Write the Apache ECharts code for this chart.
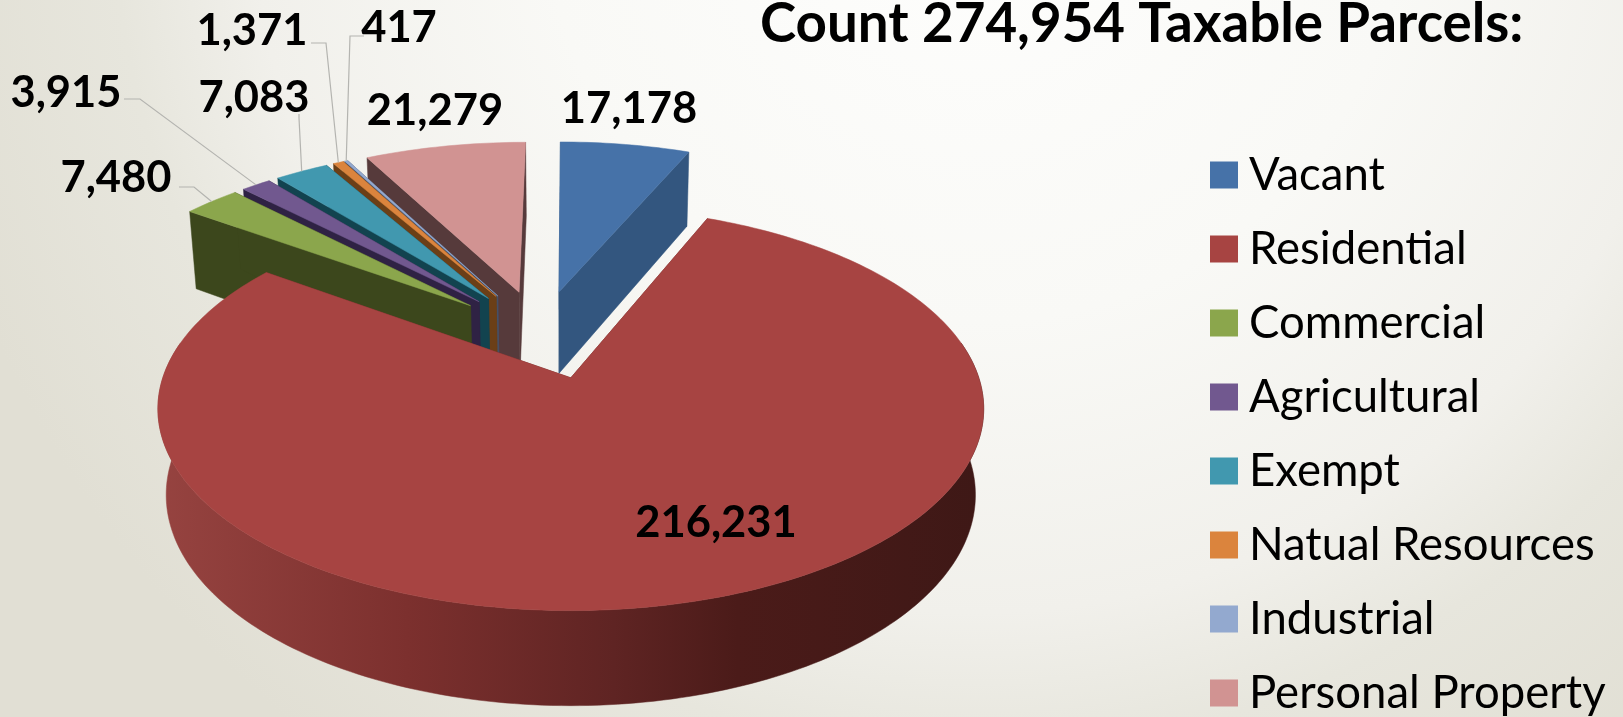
<!DOCTYPE html>
<html>
<head>
<meta charset="utf-8">
<style>
  html, body { margin: 0; padding: 0; }
  #chart { width: 1623px; height: 717px; }
</style>
<script src="https://cdn.jsdelivr.net/npm/echarts@6/dist/echarts.min.js"></script>
</head>
<body>
<div id="chart"></div>
<script>
const categories = ['Vacant', 'Residential', 'Commercial', 'Agricultural', 'Exempt', 'Natual Resources', 'Industrial', 'Personal Property'];
const parcels = [17178, 216231, 7480, 3915, 7083, 1371, 417, 21279];
const topColors = ['#4672a8', '#a74442', '#8ba64c', '#71588f', '#4198af', '#db843d', '#93a9cf', '#d19392'];
const wallColors = ['#33567f', '#6b2a28', '#3c471c', '#2f2244', '#12434f', '#6b3f17', '#455068', '#563a3b'];
const chartTitle = 'Count 274,954 Taxable Parcels:';

// paint order, back of the pie first
const paintOrder = [0, 7, 6, 5, 4, 3, 2, 1];

// text centre, then the elbow points of the leader line
const labelAnchors = [
  { x: 629, y: 109, line: [] },
  { x: 716, y: 523, line: [] },
  { x: 116, y: 178, line: [[179, 187], [194, 187]] },
  { x: 66, y: 93, line: [[124, 99], [140, 99]] },
  { x: 254, y: 98, line: [[299, 114], [299, 118]] },
  { x: 252, y: 31, line: [[311, 43], [326, 43]] },
  { x: 399, y: 28, line: [[364, 36], [350, 36]] },
  { x: 435, y: 111, line: [] }
];

// projection of the tilted pie (unit radius, v towards the viewer, z downwards)
const cx = 570.8, cy = 377.8;
const scaleX = 408, scaleY = 197, depth = 87;
const persp = 0.1538, perspZ = 0.02;
// the big slice stays put, the others are pulled out from this point
const baseU = -0.078, baseV = -0.232, explode = 0.24;
const mainSlice = 1;

const total = parcels.reduce((a, b) => a + b, 0);

function project(u, v, z) {
  const d = 1 - persp * v + perspZ * z;
  return [cx + scaleX * u / d, cy + (scaleY * v + depth * z) / d];
}

function sliceAngles(index) {
  let sum = 0;
  for (let i = 0; i < index; i++) sum += parcels[i];
  const start = sum / total * Math.PI * 2;
  return [start, start + parcels[index] / total * Math.PI * 2];
}

function renderSlice(index, value) {
  const [a0, a1] = sliceAngles(index);
  const mid = (a0 + a1) / 2;
  const ou = index === mainSlice ? 0 : baseU + explode * Math.sin(mid);
  const ov = index === mainSlice ? 0 : baseV - explode * Math.cos(mid);
  const rim = (a, z) => project(ou + Math.sin(a), ov - Math.cos(a), z);
  const apexTop = project(ou, ov, 0);
  const apexBottom = project(ou, ov, 1);

  const arc = [];
  const steps = Math.max(2, Math.ceil((a1 - a0) / 0.02));
  for (let i = 0; i <= steps; i++) arc.push(a0 + (a1 - a0) * i / steps);

  const wallFill = wallColors[index];
  const children = [];
  const face = (points, fill) => children.push({
    type: 'polygon', shape: { points: points }, style: { fill: fill, stroke: fill, lineWidth: 0.5 }
  });

  face([apexTop, rim(a0, 0), rim(a0, 1), apexBottom], wallFill);
  face([apexTop, rim(a1, 0), rim(a1, 1), apexBottom], wallFill);

  // outer wall, only the part that faces the viewer
  const front = arc.filter((a) => Math.cos(a) < 0.2);
  if (front.length > 1) {
    const wall = front.map((a) => rim(a, 0)).concat(front.slice().reverse().map((a) => rim(a, 1)));
    face(wall, {
      type: 'linear', global: true, x: 160, y: 0, x2: 985, y2: 0,
      colorStops: [
        { offset: 0, color: '#964340' },
        { offset: 0.3, color: '#7c302e' },
        { offset: 0.55, color: '#5f2423' },
        { offset: 0.7, color: '#4b1b19' },
        { offset: 1, color: '#3e1816' }
      ]
    });
  }

  face([apexTop].concat(arc.map((a) => rim(a, 0))), topColors[index]);

  const anchor = labelAnchors[index];
  if (anchor.line.length) {
    children.push({
      type: 'polyline',
      shape: { points: anchor.line.concat([rim(mid, 0)]) },
      style: { stroke: '#b4b4b0', lineWidth: 1.2, fill: null }
    });
  }
  children.push({
    type: 'text',
    style: {
      text: value.toLocaleString('en-US'),
      x: anchor.x, y: anchor.y,
      font: 'bold 43.5px Lato',
      fill: '#000',
      align: 'center',
      verticalAlign: 'middle'
    }
  });
  return { type: 'group', children: children };
}

const chart = echarts.init(document.getElementById('chart'));

chart.setOption({
  animation: false,
  backgroundColor: {
    type: 'radial', x: 0.6, y: -0.15, r: 1.5,
    colorStops: [
      { offset: 0, color: '#fefefd' },
      { offset: 0.4, color: '#f9f9f6' },
      { offset: 0.67, color: '#f1f0eb' },
      { offset: 0.8, color: '#e7e6dd' },
      { offset: 1, color: '#e1dfd4' }
    ]
  },
  color: topColors,
  title: {
    text: chartTitle,
    left: 755,
    top: -8,
    textStyle: { fontFamily: 'Lato', fontWeight: 'bold', fontSize: 54.7, color: '#000' }
  },
  legend: {
    orient: 'vertical',
    left: 1205,
    top: 144,
    height: 600,
    data: categories,
    icon: 'rect',
    itemWidth: 28,
    itemHeight: 27,
    itemGap: 22,
    selectedMode: false,
    textStyle: { fontFamily: 'Lato', fontSize: 45.5, color: '#000', lineHeight: 52, padding: [0, 0, 0, 6] }
  },
  series: categories.map((name, i) => ({
    name: name,
    type: 'custom',
    coordinateSystem: 'none',
    z: 2 + paintOrder.indexOf(i),
    silent: true,
    data: [[parcels[i]]],
    renderItem: (params, api) => renderSlice(i, api.value(0))
  }))
});

window.addEventListener('resize', () => chart.resize());
</script>
</body>
</html>
